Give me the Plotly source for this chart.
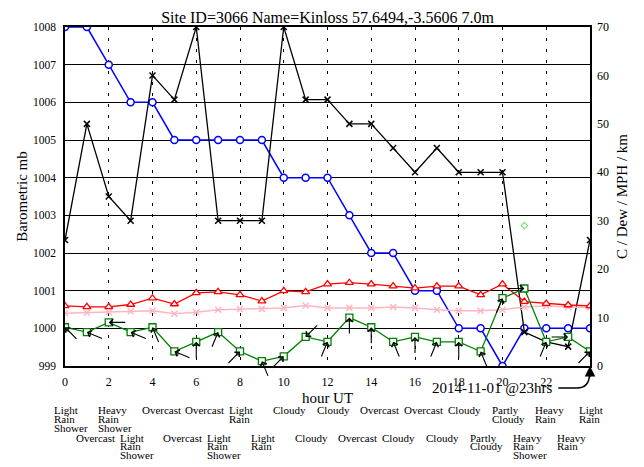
import math
import plotly.graph_objects as go

# ---------------- data ----------------
hours = list(range(25))
pressure_mb = [1008, 1008, 1007, 1006, 1006, 1005, 1005, 1005, 1005, 1005, 1004, 1004, 1004,
               1003, 1002, 1002, 1001, 1001, 1000, 1000, 999, 1000, 1000, 1000, 1000]
visibility_km = [26, 50, 35, 30, 60, 55, 70, 30, 30, 30, 70, 55, 55,
                 50, 50, 45, 40, 45, 40, 40, 40, 7, 5, 4, 26]
temp_c = [12.4, 12.2, 12.2, 12.7, 14.0, 12.8, 15.1, 15.3, 14.7, 13.4, 15.5, 15.3, 16.9,
          17.2, 16.9, 16.5, 16.1, 16.5, 16.5, 14.7, 16.9, 13.3, 12.9, 12.6, 12.4]
dew_c = [10.9, 11.0, 11.1, 11.3, 11.4, 10.8, 11.1, 11.6, 11.7, 11.8, 12.0, 12.5, 12.0,
         12.0, 12.0, 12.2, 12.0, 11.6, 11.4, 11.4, 11.6, 12.2, 12.4, 12.2, 12.1]
wind_mph = [8, 7, 9, 7, 8, 3, 5, 7, 3, 1, 2, 6, 5, 10, 8, 5, 6, 5, 5, 3, 14, 16, 5, 6, 3]
wind_dir_deg = [135, 112.5, 90, 112.5, 157.5, 112.5, 180, 202.5, 225, 157.5, 225, 45, 202.5,
                180, 180, 157.5, 180, 202.5, 180, 157.5, 202.5, 270, 202.5, 270, 225]
gust_mph = [None] * 21 + [29] + [None] * 3
weather = ["Light Rain Shower", "Overcast", "Heavy Rain Shower", "Light Rain Shower", "Overcast",
           "Overcast", "Overcast", "Light Rain Shower", "Light Rain", "Light Rain", "Cloudy",
           "Cloudy", "Cloudy", "Overcast", "Overcast", "Cloudy", "Overcast", "Cloudy", "Cloudy",
           "Partly Cloudy", "Partly Cloudy", "Heavy Rain Shower", "Heavy Rain", "Heavy Rain",
           "Light Rain"]
x_ticks = list(range(0, 24, 2))
left_ticks = list(range(999, 1009))
right_ticks = list(range(0, 71, 10))

title = "Site ID=3066 Name=Kinloss 57.6494,-3.5606 7.0m"
stamp = "2014-11-01 @23hrs"

FONT = "Liberation Serif, Times New Roman, serif"

fig = go.Figure()

fig.add_trace(go.Scatter(x=hours, y=visibility_km, yaxis="y2", mode="lines+markers",
                         line=dict(color="black", width=1.3),
                         marker=dict(symbol="x-thin", size=6, color="black",
                                     line=dict(color="black", width=1.5))))
fig.add_trace(go.Scatter(x=hours, y=dew_c, yaxis="y2", mode="lines+markers",
                         line=dict(color="#ffb6c1", width=1.5),
                         marker=dict(symbol="x-thin", size=6, color="#ffb6c1",
                                     line=dict(color="#ffb6c1", width=1.5))))
fig.add_trace(go.Scatter(x=hours, y=temp_c, yaxis="y2", mode="lines+markers",
                         line=dict(color="red", width=1.3),
                         marker=dict(symbol="triangle-up", size=7, color="white",
                                     line=dict(color="red", width=1.3))))
fig.add_trace(go.Scatter(x=hours, y=wind_mph, yaxis="y2", mode="lines+markers",
                         line=dict(color="green", width=1.3),
                         marker=dict(symbol="square", size=7, color="white",
                                     line=dict(color="green", width=1.3))))
fig.add_trace(go.Scatter(x=hours, y=gust_mph, yaxis="y2", mode="markers",
                         marker=dict(symbol="diamond-open", size=5, color="#7fe07f",
                                     line=dict(color="#7fe07f", width=1.2))))
fig.add_trace(go.Scatter(x=hours, y=pressure_mb, yaxis="y", mode="lines+markers",
                         line=dict(color="blue", width=1.5),
                         marker=dict(symbol="circle", size=7, color="white",
                                     line=dict(color="blue", width=1.5))))

annotations = []
# wind direction arrows (head at the data point, tail pointing to where the wind comes from)
L = 17
for h, w, d in zip(hours, wind_mph, wind_dir_deg):
    r = math.radians(d)
    annotations.append(dict(x=h, y=w, xref="x", yref="y2", text=" ", showarrow=True,
                            font=dict(size=1), borderpad=0,
                            ax=L * math.sin(r), ay=-L * math.cos(r),
                            arrowhead=4, arrowsize=1.2, arrowwidth=1.1, arrowcolor="black",
                            standoff=0, startstandoff=0))

# weather labels beneath axis
for h, txt in zip(hours, weather):
    row = h % 2
    for i, word in enumerate(txt.split(" ")):
        annotations.append(dict(x=h, xref="x", y=0, yref="paper", text=word, showarrow=False,
                                xanchor="left", yanchor="middle", xshift=-13,
                                yshift=-(44 + 8.8 * i + 27.5 * row),
                                font=dict(family=FONT, size=11, color="black")))

# date stamp and arrow
annotations.append(dict(x=24, xref="x", y=0, yref="paper", text=stamp, showarrow=False,
                        xanchor="right", yanchor="middle", xshift=-36, yshift=-22,
                        font=dict(family=FONT, size=15, color="black")))
annotations.append(dict(x=24, y=999, xref="x", yref="y", text=" ", showarrow=True,
                        font=dict(size=1), borderpad=0,
                        ax=0, ay=12, arrowhead=2, arrowsize=1.4, arrowwidth=1.5,
                        arrowcolor="black", standoff=0))

shapes = [
    # curved pointer from stamp to the last hour
    dict(type="path", xref="paper", yref="paper",
         path="M 0.9396,-0.0649 L 0.975,-0.0649 Q 0.9991,-0.0649 0.9991,-0.022",
         line=dict(color="black", width=1.5)),
]

# the page adds an 8px body margin; margins compensate so the plot area sits
# at the same screen position as the reference
fig.update_layout(
    width=644, height=467,
    margin=dict(l=52, r=62, t=19, b=109),
    paper_bgcolor="white", plot_bgcolor="white",
    showlegend=False,
    font=dict(family=FONT, size=12, color="black"),
    title=dict(text=title, x=0.5, xref="paper", xanchor="center",
               y=1 - 9 / 467, yref="container", yanchor="middle",
               font=dict(family=FONT, size=16, color="black")),
    xaxis=dict(range=[0, 24], tickvals=x_ticks, ticktext=[str(v) for v in x_ticks],
               showgrid=True, gridcolor="black", gridwidth=1, griddash="3px,8px",
               zeroline=False, showline=True, linecolor="black", linewidth=1.5, mirror=True,
               ticks="", ticklabelstandoff=4,
               tickfont=dict(family=FONT, size=12),
               title=dict(text="hour UT", font=dict(family=FONT, size=15), standoff=4)),
    yaxis=dict(range=[999, 1008], tickvals=left_ticks, showgrid=True, gridcolor="black",
               gridwidth=1, zeroline=False, showline=True, linecolor="black", linewidth=1.5,
               mirror=True, ticks="", ticklabelstandoff=5,
               tickfont=dict(family=FONT, size=11.5),
               title=dict(text="Barometric mb", font=dict(family=FONT, size=15), standoff=2)),
    yaxis2=dict(range=[0, 70], tickvals=right_ticks, overlaying="y", side="right",
                showgrid=False, zeroline=False, showline=False, ticks="", ticklabelstandoff=6,
                tickfont=dict(family=FONT, size=12),
                title=dict(text="C / Dew / MPH / km", font=dict(family=FONT, size=15), standoff=8)),
    annotations=annotations,
    shapes=shapes,
)

fig.write_html("out.html")
